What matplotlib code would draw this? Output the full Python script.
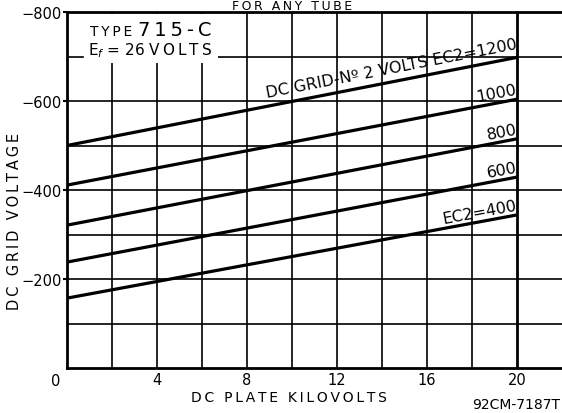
import numpy as np
import matplotlib.pyplot as plt

# EC2 curves: grid voltage at 0 kV and 20 kV plate
plate_kv = [0, 20]
ec2_1200 = [-500, -698]
ec2_1000 = [-411, -604]
ec2_800 = [-321, -515]
ec2_600 = [-238, -429]
ec2_400 = [-157, -344]

x_ticks = [4, 8, 12, 16, 20]
y_ticks = [-200, -400, -600, -800]

plt.rcParams['font.family'] = ["DejaVu Sans"]


def spread(s):
    # wide drafting lettering
    return "\u2009".join(s)


fig = plt.figure(figsize=(5.62, 4.14), dpi=100)
ax = fig.add_axes([67 / 562, 1 - 369 / 414, 1 - 67 / 562, (369 - 13) / 414])

ax.set_xlim(0, 22)
ax.set_ylim(0, -800)

# grid
for gx in np.arange(2, 22, 2):
    ax.axvline(gx, color="black", lw=2.0 if gx == 20 else 1.2, zorder=1)
for gy in np.arange(-100, -800, -100):
    ax.axhline(gy, color="black", lw=1.2, zorder=1)

for s in ["left", "bottom", "top"]:
    ax.spines[s].set_linewidth(2)
ax.spines["right"].set_visible(False)

curves = [ec2_1200, ec2_1000, ec2_800, ec2_600, ec2_400]
for c in curves:
    ax.plot(plate_kv, c, color="black", lw=2.3, zorder=3, solid_capstyle="butt")

# angle of lines on screen
fig.canvas.draw()
def angle(c):
    p0 = ax.transData.transform((plate_kv[0], c[0]))
    p1 = ax.transData.transform((plate_kv[1], c[1]))
    return np.degrees(np.arctan2(p1[1] - p0[1], p1[0] - p0[0]))

lab_kw = dict(fontsize=11.5, ha="right", va="bottom", rotation_mode="anchor", zorder=4)
ax.text(20.05, ec2_1200[1] - 15, "DC GRID-Nº 2 VOLTS EC2=1200", rotation=angle(ec2_1200), **lab_kw)
ax.text(20.05, ec2_1000[1] - 6, "1000", rotation=angle(ec2_1000), **lab_kw)
ax.text(20.05, ec2_800[1] - 6, "800", rotation=angle(ec2_800), **lab_kw)
ax.text(20.05, ec2_600[1] - 6, "600", rotation=angle(ec2_600), **lab_kw)
ax.text(20.05, ec2_400[1] - 6, "EC2=400", rotation=angle(ec2_400), **lab_kw)

# type box
ax.add_patch(plt.Rectangle((0.1, -795), 6.6, 110, facecolor="white", edgecolor="none", zorder=2))
ax.plot([0, 0.7], [-700, -700], color="black", lw=1.2, zorder=3)
ax.text(1.0, -748, spread("TYPE"), fontsize=10, ha="left", va="baseline", zorder=4)
ax.text(3.15, -748, spread("715-C"), fontsize=14, ha="left", va="baseline", zorder=4)
ax.text(0.95, -706, r"E$_f$" + " = 26 " + spread("VOLTS"), fontsize=11, ha="left", va="baseline", zorder=4)

ax.set_xticks(x_ticks)
ax.set_xticklabels([str(t) for t in x_ticks], fontsize=10.5)
ax.set_yticks(y_ticks)
ax.set_yticklabels([str(t).replace("-", "\u2212") for t in y_ticks], fontsize=10.5)
ax.tick_params(axis="x", length=0, pad=3)
ax.tick_params(axis="y", length=3, width=1.5, pad=1)
ax.text(-0.3, 12, "0", fontsize=10.5, ha="right", va="top", clip_on=False)

fig.text(0.515, 0.038, spread("DC PLATE KILOVOLTS"), fontsize=10, ha="center", va="center")
fig.text(0.025, 0.465, spread("DC GRID VOLTAGE"), fontsize=10.5, ha="center", va="center", rotation=90)
fig.text(0.996, 0.005, "92CM-7187T", fontsize=10, ha="right", va="bottom")
fig.text(0.52, 1 - 10 / 414, spread("FOR ANY TUBE"), fontsize=9, ha="center", va="baseline")

fig.savefig("out.png", dpi=100)
